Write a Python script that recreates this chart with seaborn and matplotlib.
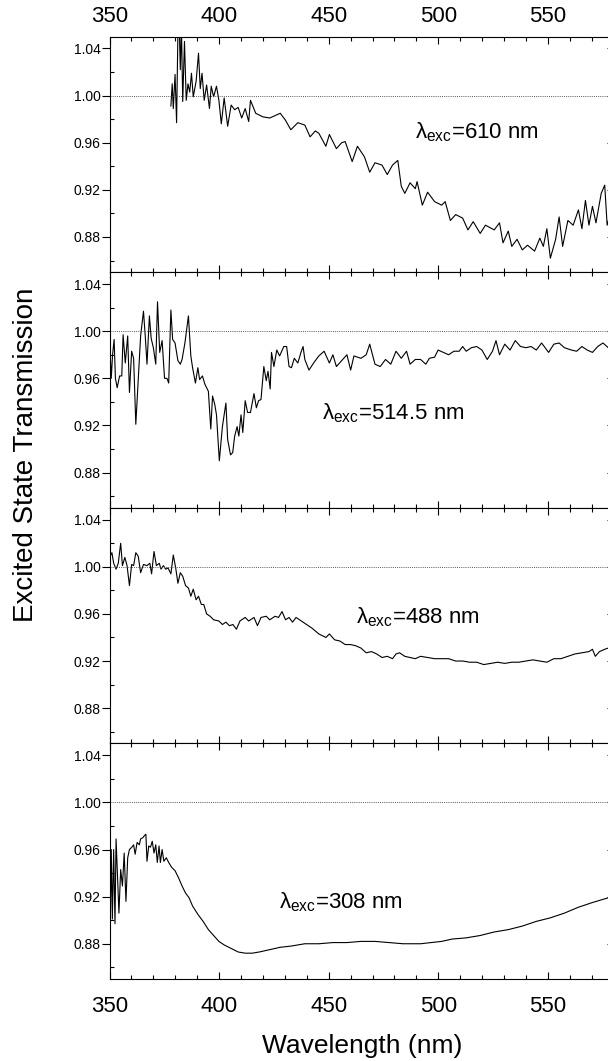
import matplotlib
matplotlib.use("Agg")
import pandas as pd
import matplotlib.pyplot as plt
import seaborn as sns
from matplotlib.ticker import MultipleLocator, FixedLocator, FormatStrFormatter

# Excited state transmission spectra (top to bottom)
wl_610 = [378.0, 378.6, 379.1, 379.9, 380.6, 381.2, 381.8, 382.3, 382.8, 383.4, 384.2, 385.0,
          385.8, 386.6, 387.4, 388.2, 389.5, 390.6, 391.4, 392.2, 393.2, 394.3, 395.6, 396.4,
          397.5, 398.8, 399.9, 401.0, 402.3, 403.9, 405.5, 407.1, 408.7, 410.3, 411.9, 413.5,
          414.3, 416.7, 419.9, 423.1, 425.5, 427.9, 430.3, 432.7, 435.9, 439.1, 441.5, 443.9,
          445.5, 448.7, 450.3, 453.5, 455.9, 457.5, 460.7, 463.1, 466.3, 468.7, 471.1, 474.3,
          476.7, 479.1, 481.5, 483.1, 484.7, 487.1, 489.5, 490.3, 492.7, 495.1, 498.3, 501.5,
          503.1, 505.5, 507.9, 511.1, 513.5, 515.9, 519.1, 521.5, 525.5, 527.9, 529.5, 531.9,
          533.5, 535.9, 538.3, 540.7, 543.9, 546.3, 547.9, 549.5, 551.1, 553.5, 555.1, 556.7,
          559.1, 561.5, 563.9, 565.5, 567.1, 568.7, 570.3, 571.9, 574.3, 575.9, 577.0, 580.0]
tr_610 = [0.991, 1.010, 0.989, 1.018, 0.977, 1.053, 1.060, 1.022, 1.060, 0.995, 1.046, 0.996,
          1.010, 1.003, 1.019, 0.999, 1.012, 1.036, 1.006, 1.019, 0.996, 1.009, 0.989, 1.008,
          0.999, 1.008, 0.996, 0.976, 0.998, 0.974, 0.992, 0.988, 0.990, 0.981, 0.989, 0.978,
          0.996, 0.985, 0.982, 0.981, 0.983, 0.985, 0.979, 0.971, 0.977, 0.975, 0.965, 0.970,
          0.968, 0.957, 0.967, 0.955, 0.960, 0.961, 0.944, 0.957, 0.948, 0.935, 0.943, 0.941,
          0.933, 0.941, 0.945, 0.923, 0.917, 0.926, 0.921, 0.927, 0.907, 0.918, 0.910, 0.907,
          0.910, 0.894, 0.899, 0.896, 0.886, 0.893, 0.883, 0.890, 0.886, 0.892, 0.875, 0.885,
          0.872, 0.878, 0.869, 0.873, 0.868, 0.879, 0.872, 0.887, 0.862, 0.878, 0.897, 0.872,
          0.894, 0.890, 0.903, 0.887, 0.911, 0.890, 0.906, 0.892, 0.917, 0.924, 0.890, 0.910]

wl_514 = [350.3, 350.8, 351.4, 352.1, 352.7, 353.5, 354.6, 355.6, 356.2, 357.2, 358.3, 359.1,
          360.1, 361.0, 362.0, 363.1, 364.2, 365.5, 366.3, 367.1, 368.2, 369.0, 370.0, 371.1,
          371.9, 372.9, 374.0, 375.1, 376.2, 377.0, 378.0, 378.8, 379.9, 381.2, 382.3, 383.1,
          384.4, 386.0, 387.1, 387.9, 389.2, 390.3, 391.1, 392.4, 393.5, 395.1, 396.2, 397.0,
          398.0, 398.8, 400.1, 401.5, 403.1, 403.9, 405.2, 406.2, 407.1, 408.2, 409.0, 410.0,
          410.8, 411.9, 413.0, 414.3, 415.9, 417.0, 418.0, 419.1, 420.4, 421.5, 422.3, 423.3,
          423.9, 425.0, 426.3, 427.6, 429.5, 430.8, 431.9, 433.0, 434.3, 435.9, 437.5, 438.3,
          439.1, 441.0, 443.1, 445.5, 447.9, 450.3, 451.9, 453.5, 455.9, 458.3, 460.0, 461.5,
          464.7, 467.1, 468.7, 471.1, 473.5, 475.9, 478.3, 480.7, 483.1, 485.5, 487.1, 489.5,
          491.9, 494.3, 495.9, 498.3, 499.9, 502.3, 504.7, 507.1, 509.5, 511.1, 512.7, 515.1,
          517.5, 519.9, 522.3, 524.7, 526.3, 527.9, 530.3, 532.7, 535.1, 537.5, 539.9, 542.3,
          544.7, 547.1, 550.3, 552.7, 555.1, 557.5, 560.7, 563.1, 565.5, 567.9, 570.3, 572.7,
          575.1, 577.5, 580.0]
tr_514 = [0.982, 0.960, 0.980, 0.993, 0.960, 0.952, 0.962, 0.962, 0.997, 0.973, 0.996, 0.948,
          0.983, 0.977, 0.921, 0.959, 0.996, 1.017, 0.996, 0.972, 1.013, 0.994, 0.986, 0.972,
          1.025, 0.982, 0.992, 0.960, 0.960, 0.956, 1.018, 0.993, 0.990, 0.975, 0.972, 0.976,
          0.990, 1.013, 0.979, 0.969, 0.956, 0.969, 0.959, 0.962, 0.955, 0.949, 0.917, 0.945,
          0.938, 0.929, 0.890, 0.919, 0.939, 0.908, 0.895, 0.897, 0.911, 0.919, 0.911, 0.929,
          0.914, 0.941, 0.931, 0.931, 0.947, 0.935, 0.941, 0.942, 0.970, 0.958, 0.966, 0.951,
          0.982, 0.970, 0.984, 0.979, 0.987, 0.987, 0.970, 0.969, 0.977, 0.973, 0.983, 0.987,
          0.976, 0.967, 0.973, 0.979, 0.983, 0.973, 0.980, 0.970, 0.975, 0.980, 0.967, 0.979,
          0.977, 0.980, 0.989, 0.972, 0.970, 0.976, 0.972, 0.983, 0.977, 0.983, 0.972, 0.976,
          0.976, 0.972, 0.977, 0.978, 0.984, 0.982, 0.980, 0.983, 0.983, 0.987, 0.983, 0.986,
          0.987, 0.984, 0.976, 0.983, 0.992, 0.980, 0.989, 0.984, 0.992, 0.987, 0.986, 0.987,
          0.984, 0.990, 0.982, 0.989, 0.990, 0.986, 0.984, 0.983, 0.987, 0.984, 0.982, 0.987,
          0.990, 0.986, 0.987]

wl_488 = [350.3, 351.1, 351.9, 353.0, 354.0, 355.1, 355.9, 357.0, 358.0, 359.1, 360.1, 361.0,
          362.0, 363.1, 364.2, 365.5, 367.1, 368.4, 369.2, 370.3, 371.4, 372.7, 373.5, 374.6,
          375.6, 376.7, 378.0, 379.1, 380.2, 381.2, 382.3, 383.4, 384.7, 386.0, 387.1, 388.2,
          389.5, 390.6, 391.9, 393.0, 394.3, 395.9, 397.5, 399.9, 401.5, 403.1, 404.7, 406.3,
          407.9, 409.5, 411.9, 413.5, 415.9, 417.5, 419.1, 421.5, 423.1, 425.5, 427.1, 428.7,
          430.3, 431.9, 433.5, 435.1, 437.5, 439.9, 442.3, 445.5, 448.7, 450.3, 452.7, 455.1,
          457.5, 459.9, 462.3, 464.7, 467.1, 469.5, 471.9, 474.3, 476.7, 479.1, 480.7, 482.3,
          484.7, 487.1, 489.5, 491.9, 495.1, 498.3, 501.5, 504.7, 507.9, 511.1, 514.3, 517.5,
          520.7, 523.9, 527.1, 530.3, 533.5, 536.7, 539.9, 543.1, 546.3, 549.5, 552.7, 555.9,
          559.1, 562.3, 565.5, 568.7, 570.3, 571.6, 573.5, 575.9, 577.5, 580.0]
tr_488 = [1.009, 1.012, 1.003, 0.998, 1.003, 1.020, 1.001, 1.008, 1.001, 0.984, 1.002, 1.001,
          1.012, 1.009, 0.995, 1.002, 1.001, 1.003, 0.994, 1.013, 1.001, 1.003, 0.998, 1.001,
          0.998, 0.999, 0.994, 1.010, 0.999, 0.986, 0.995, 0.992, 0.984, 0.982, 0.975, 0.981,
          0.972, 0.975, 0.968, 0.968, 0.960, 0.958, 0.955, 0.954, 0.951, 0.953, 0.950, 0.951,
          0.947, 0.954, 0.957, 0.954, 0.957, 0.950, 0.957, 0.958, 0.955, 0.958, 0.957, 0.962,
          0.955, 0.957, 0.953, 0.957, 0.954, 0.951, 0.948, 0.943, 0.940, 0.943, 0.938, 0.937,
          0.934, 0.934, 0.933, 0.931, 0.927, 0.928, 0.926, 0.923, 0.924, 0.922, 0.926, 0.927,
          0.924, 0.923, 0.922, 0.924, 0.923, 0.922, 0.922, 0.922, 0.920, 0.920, 0.919, 0.919,
          0.917, 0.918, 0.919, 0.918, 0.919, 0.919, 0.920, 0.921, 0.920, 0.919, 0.922, 0.922,
          0.924, 0.926, 0.927, 0.928, 0.930, 0.924, 0.928, 0.930, 0.931, 0.931]

wl_308 = [350.3, 350.8, 351.3, 351.9, 352.5, 353.0, 353.7, 354.3, 355.1, 355.9, 356.7, 357.5,
          358.3, 359.1, 360.2, 361.0, 361.7, 362.6, 363.6, 364.2, 365.2, 366.0, 366.6, 367.1,
          367.9, 368.7, 369.5, 370.3, 371.1, 371.8, 372.6, 373.2, 374.0, 374.8, 375.9, 377.0,
          378.3, 379.9, 381.5, 383.1, 384.7, 386.3, 387.9, 390.3, 392.7, 395.1, 397.5, 399.9,
          402.3, 405.5, 408.7, 411.9, 415.1, 418.3, 423.1, 427.9, 432.7, 439.1, 445.5, 451.9,
          458.3, 464.7, 471.1, 477.5, 483.9, 487.1, 491.9, 496.7, 501.5, 506.3, 512.7, 519.1,
          525.5, 531.9, 538.3, 544.7, 551.1, 557.5, 563.9, 570.3, 577.5, 580.0]
tr_308 = [0.887, 0.960, 0.901, 0.960, 0.897, 0.969, 0.935, 0.906, 0.943, 0.929, 0.957, 0.916,
          0.953, 0.960, 0.962, 0.964, 0.956, 0.966, 0.964, 0.969, 0.970, 0.972, 0.973, 0.950,
          0.963, 0.962, 0.967, 0.957, 0.964, 0.949, 0.963, 0.949, 0.960, 0.950, 0.953, 0.949,
          0.945, 0.942, 0.936, 0.929, 0.923, 0.919, 0.912, 0.905, 0.899, 0.892, 0.887, 0.882,
          0.879, 0.876, 0.873, 0.872, 0.872, 0.873, 0.875, 0.877, 0.878, 0.880, 0.880, 0.881,
          0.881, 0.882, 0.882, 0.881, 0.880, 0.880, 0.880, 0.881, 0.882, 0.884, 0.885, 0.887,
          0.890, 0.892, 0.895, 0.899, 0.902, 0.906, 0.911, 0.915, 0.919, 0.921]

labels = [r"λ$_{\mathrm{exc}}$=610 nm", r"λ$_{\mathrm{exc}}$=514.5 nm",
          r"λ$_{\mathrm{exc}}$=488 nm", r"λ$_{\mathrm{exc}}$=308 nm"]
label_pos = [(489.5, 0.9637), (447.1, 0.925), (462.3, 0.952), (427.1, 0.910)]

sns.set_style("ticks", {"axes.edgecolor": "black", "xtick.color": "black",
                        "ytick.color": "black", "text.color": "black"})
plt.rcParams["font.family"] = ["Liberation Sans", "DejaVu Sans"]
plt.rcParams["mathtext.fontset"] = "custom"
plt.rcParams["mathtext.rm"] = "Liberation Sans"
plt.rcParams["mathtext.it"] = "Liberation Sans:italic"

series = [(wl_610, tr_610), (wl_514, tr_514), (wl_488, tr_488), (wl_308, tr_308)]

fig = plt.figure(figsize=(6.08, 10.61), dpi=100)
left, width = 0.1801, 0.8293
top, h = 0.9654, 0.22205

for i, (wl, tr) in enumerate(series):
    ax = fig.add_axes([left, top - (i + 1) * h, width, h])
    df = pd.DataFrame({"wl": wl, "T": tr})
    sns.lineplot(data=df, x="wl", y="T", ax=ax, color="black", lw=0.8,
                 estimator=None, sort=False)
    ax.axhline(1.0, color="0.35", lw=0.7, ls=(0, (1, 1.2)))
    ax.set_xlim(350, 580)
    ax.set_ylim(0.85, 1.05)
    ax.set_xlabel("")
    ax.set_ylabel("")

    ax.xaxis.set_major_locator(MultipleLocator(50))
    ax.xaxis.set_minor_locator(MultipleLocator(10))
    yt_major = [0.88, 0.92, 0.96, 1.00, 1.04]
    yt_minor = [0.86, 0.90, 0.94, 0.98, 1.02]
    ax.yaxis.set_major_locator(FixedLocator(yt_major))
    ax.yaxis.set_minor_locator(FixedLocator(yt_minor))
    ax.yaxis.set_major_formatter(FormatStrFormatter("%.2f"))

    ax.tick_params(axis="x", which="both", direction="in", top=True, bottom=True,
                   labelbottom=(i == 3), labeltop=(i == 0), labelsize=16,
                   pad=(7 if i == 0 else 12.5), width=0.8)
    ax.tick_params(axis="x", which="major", length=5)
    ax.tick_params(axis="x", which="minor", length=2.8)
    ax.tick_params(axis="y", which="major", direction="out", length=5.5, width=0.8,
                   labelsize=10, pad=1, right=False)
    ax.tick_params(axis="y", which="minor", direction="in", length=2.8, width=0.8, right=False)

    sec = ax.secondary_yaxis("right")
    sec.yaxis.set_major_locator(FixedLocator(yt_major))
    sec.yaxis.set_minor_locator(FixedLocator(yt_minor))
    sec.tick_params(which="both", direction="in", labelright=False, width=0.8)
    sec.tick_params(which="major", length=5)
    sec.tick_params(which="minor", length=2.8)

    for s in ax.spines.values():
        s.set_linewidth(0.8)

    ax.text(label_pos[i][0], label_pos[i][1], labels[i], fontsize=16, ha="left", va="baseline")

fig.text(26 / 608, 1 - 455 / 1061, "Excited State Transmission", rotation=90,
         ha="center", va="center", fontsize=20)
fig.text(361.8 / 608, 8 / 1061, "Wavelength (nm)", ha="center", va="baseline", fontsize=19)

fig.savefig("out.png", dpi=100)
